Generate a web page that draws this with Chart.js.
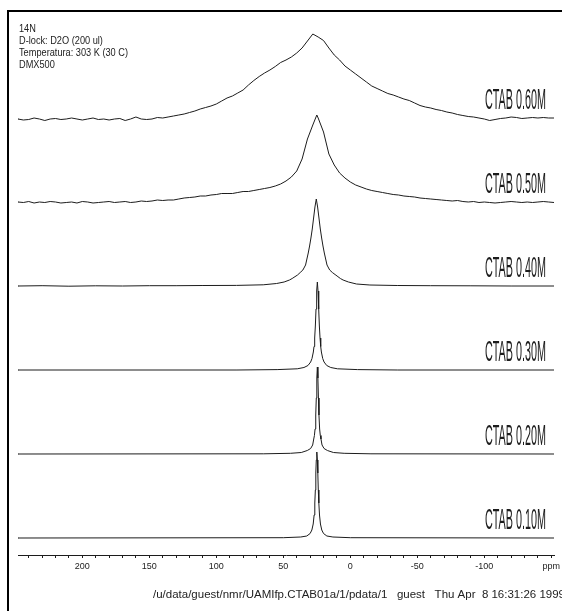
<!DOCTYPE html>
<html><head><meta charset="utf-8">
<script src="https://cdn.jsdelivr.net/npm/chart.js@4.4.1/dist/chart.umd.min.js"></script>
<style>html,body{margin:0;padding:0;background:#fff;}canvas{display:block;}</style>
</head><body>
<canvas id="c" width="562" height="611"></canvas>
<script>
// ---- data (ppm, intensity) ----
const seriesLabels = ['CTAB 0.60M','CTAB 0.50M','CTAB 0.40M','CTAB 0.30M','CTAB 0.20M','CTAB 0.10M'];
const ctab060 = [[248,-1],[244,-2],[240,-1.5],[236,0],[232,-1],[228,-2.5],[224,-1],[220,-0.5],[216,-1.5],[212,-1],[208,0],[204,-1],[200,-2],[196,-1],[192,0],[188,-1.5],[184,-1],[180,-2],[176,-1],[172,-0.5],[168,-2.5],[164,-1],[160,1],[156,-1],[152,-1.5],[148,-1],[144,0.5],[140,0],[136,1],[132,2],[128,3],[124,4],[120,5.5],[116,7],[112,9],[108,10.5],[104,12],[100,14],[96,17],[92,20],[88,22],[84,25],[80,28],[76,33],[72,37.5],[68,41.5],[64,45],[60,48],[56,51.5],[52,55.5],[48,58],[44,61],[40,65],[36,70],[32,77],[28,84],[24,81],[20,77.5],[16,70],[12,63],[8,58],[4,52],[0,48],[-4,44],[-8,40],[-12,36],[-16,32],[-20,29.5],[-24,27],[-28,24.5],[-32,23],[-36,21],[-40,19],[-44,17.5],[-48,15],[-52,12.5],[-56,11],[-60,10],[-64,8.5],[-68,7.5],[-72,6],[-76,5],[-80,3.5],[-84,2.5],[-88,1.5],[-92,1],[-96,0],[-100,-1],[-104,-2.5],[-108,-1.5],[-112,-0.5],[-116,0],[-120,1],[-124,0.5],[-128,-0.5],[-132,0],[-136,0.5],[-140,0],[-144,0.5],[-148,0],[-152,0]];
const ctab050 = [[248,0],[244,-0.5],[240,0.5],[236,-1],[232,0],[228,-0.5],[224,0.5],[220,0],[216,-1],[212,-0.5],[208,0],[204,-1],[200,0.5],[196,0],[192,-1],[188,-0.5],[184,0],[180,0.5],[176,-0.5],[172,0],[168,0.5],[164,-0.5],[160,0],[156,1],[152,0.5],[148,1],[144,2],[140,1.5],[136,2],[132,2],[128,3],[124,4],[120,4.5],[116,5],[112,6],[108,6],[104,7],[100,7.5],[96,8.5],[92,8.5],[88,8.5],[84,9.5],[80,10.5],[76,10.5],[72,11.5],[68,12.5],[64,13.5],[60,14.5],[56,16],[52,18],[48,21],[44,25],[40,31],[36,43],[32,63],[28,77],[25,87],[24,84],[20,70],[16,48],[12,37],[8,29],[4,24],[0,20],[-4,17],[-8,15],[-12,13],[-16,11.5],[-20,10.5],[-24,9.5],[-28,8.5],[-32,7.5],[-36,7],[-40,6],[-44,5.5],[-48,5],[-52,4],[-56,3.5],[-60,3],[-64,2.5],[-68,2],[-72,1.5],[-76,1],[-80,1.5],[-84,0.5],[-88,0],[-92,0.5],[-96,-0.5],[-100,0],[-104,-0.5],[-108,-1],[-112,-0.5],[-116,0],[-120,0.5],[-124,0],[-128,-0.5],[-132,0],[-136,-0.5],[-140,0],[-144,0.5],[-148,0],[-152,-0.5]];
const ctab040 = [[248,0],[230,0.3],[210,-0.2],[190,0.2],[170,0],[150,0.3],[130,0.3],[110,0.5],[85,0.6],[65,1.2],[55,2.5],[49.4,4],[45.4,6],[43.4,7.5],[39.4,11],[37.4,13.5],[35.4,16],[33.4,21],[32.4,27],[31.4,33],[30.4,40],[29.4,48],[28.4,57],[27.4,68],[26.4,79],[25.4,87],[24.4,79],[23.4,68],[22.4,57],[21.4,48],[20.4,40],[19.4,33],[18.4,27],[17.4,21],[15.4,16],[13.4,13.5],[11.4,11.5],[9.9,10],[7.4,7.5],[5.4,6],[1.4,4],[-4.6,2],[-14.6,1],[-35,0.5],[-60,0.3],[-90,0.2],[-120,0],[-152,0]];
const ctab030 = [[248,0],[84.6,0],[54.6,0.4],[39.6,1.2],[34.6,2.5],[31.6,4.5],[29.6,8],[28.6,11.5],[27.6,18],[27.1,23.5],[26.6,32],[26.1,44],[25.6,61],[25.1,79],[24.6,88],[24.1,79],[23.6,61],[23.1,44],[22.6,32],[22.1,23.5],[21.6,18],[20.6,11.5],[19.6,8],[17.6,4.5],[14.6,2.5],[9.6,1.2],[-5.4,0.4],[-35.4,0],[-152,0]];
const ctab020 = [[248,0],[64.6,0.2],[44.6,0.7],[36.6,1.5],[32.1,3.5],[29.6,5.5],[28.1,9],[27.3,15],[26.8,18.5],[26.3,25],[25.8,39],[25.4,56],[25.0,76],[24.6,87],[24.2,76],[23.8,56],[23.4,39],[22.9,25],[22.4,18.5],[21.9,15],[21.1,9],[19.6,5.5],[17.1,3.5],[12.6,1.5],[4.6,0.7],[-15.4,0.2],[-152,0]];
const ctab010 = [[248,0],[50,0.3],[37,1],[32.5,2],[30,4.5],[28.7,8],[27.7,14],[27,23],[26.5,35],[26.1,48],[25.75,65],[25.4,78],[25,86],[24.6,78],[24.25,65],[23.9,48],[23.5,35],[23,23],[22.3,14],[21.3,8],[20,4.5],[17.5,2],[13,1],[0,0.3],[-152,0]];
const spectra = [ctab060, ctab050, ctab040, ctab030, ctab020, ctab010];
const labelledTicks = [200,150,100,50,0,-50,-100];
const unitTick = -150, unitLabel = 'ppm';
const headerLines = ['14N','D-lock: D2O (200 ul)','Temperatura: 303 K (30 C)','DMX500'];
const footerText = '/u/data/guest/nmr/UAMIfp.CTAB01a/1/pdata/1   guest   Thu Apr  8 16:31:26 1999';

// ---- layout constants ----
const STACK = 84;
const TICK_STEP = 10;
const n = spectra.length;
const ink = '#1c1c1c';

const datasets = spectra.map((s, i) => ({
  label: seriesLabels[i],
  data: s.map(p => ({x: p[0], y: p[1] + (n - 1 - i) * STACK})),
  borderColor: ink, borderWidth: 1, pointRadius: 0, tension: 0, fill: false,
  borderJoinStyle: 'round', borderCapStyle: 'round'
}));

function drawScaled(ctx, text, x, y, font, sx) {
  ctx.save();
  ctx.font = font;
  ctx.translate(x, y);
  ctx.scale(sx, 1);
  ctx.textAlign = 'left';
  ctx.textBaseline = 'alphabetic';
  ctx.fillText(text, 0, 0);
  ctx.restore();
}

const decor = {
  id: 'decor',
  afterDraw(chart) {
    const ctx = chart.ctx;
    const ys = chart.scales.y;
    ctx.save();
    ctx.fillStyle = '#000';
    // frame
    ctx.fillRect(7, 10, 2, 601);
    ctx.fillRect(7, 10, 555, 2);
    // header
    ctx.fillStyle = ink;
    const hFont = '11px "Liberation Sans"';
    ctx.font = hFont;
    const hs = 109 / ctx.measureText(headerLines[2]).width;
    headerLines.forEach((t, k) => drawScaled(ctx, t, 19, 32 + k * 12, hFont, hs));
    // series labels
    const lFont = '29px "Liberation Sans"';
    ctx.font = lFont;
    const ls = 61 / ctx.measureText(seriesLabels[1]).width;
    seriesLabels.forEach((t, i) => {
      ctx.font = lFont;
      const w = ctx.measureText(t).width * ls;
      const yb = ys.getPixelForValue((n - 1 - i) * STACK) - 9;
      drawScaled(ctx, t, 546 - w, yb, lFont, ls);
    });
    // footer
    ctx.fillStyle = '#222';
    const fFont = '10px "Liberation Sans"';
    ctx.font = fFont;
    const fs = 412 / ctx.measureText(footerText).width;
    drawScaled(ctx, footerText, 153, 598, fFont, fs);
    ctx.restore();
  }
};

new Chart(document.getElementById('c'), {
  type: 'line',
  data: { datasets },
  options: {
    responsive: false, animation: false, devicePixelRatio: 1,
    layout: { padding: { left: 18, right: 8, top: 20, bottom: 0 } },
    plugins: { legend: { display: false }, tooltip: { enabled: false } },
    scales: {
      x: {
        type: 'linear', reverse: true, min: -152, max: 248,
        afterFit: s => { s.height = 56; },
        afterBuildTicks: s => {
          const t = [];
          for (let v = Math.ceil(s.min / TICK_STEP) * TICK_STEP; v <= s.max; v += TICK_STEP) t.push({ value: v });
          s.ticks = t;
        },
        grid: { drawOnChartArea: false, drawTicks: true, tickLength: 3, color: ink },
        border: { display: true, color: ink, width: 1 },
        ticks: {
          autoSkip: false, maxRotation: 0,
          padding: 3, color: '#222', font: { family: 'Liberation Sans', size: 9 },
          callback: v => v === unitTick ? unitLabel : (labelledTicks.includes(v) ? String(v) : '')
        }
      },
      y: { type: 'linear', min: -17, max: 518, display: false }
    }
  },
  plugins: [decor]
});
</script>
</body></html>
